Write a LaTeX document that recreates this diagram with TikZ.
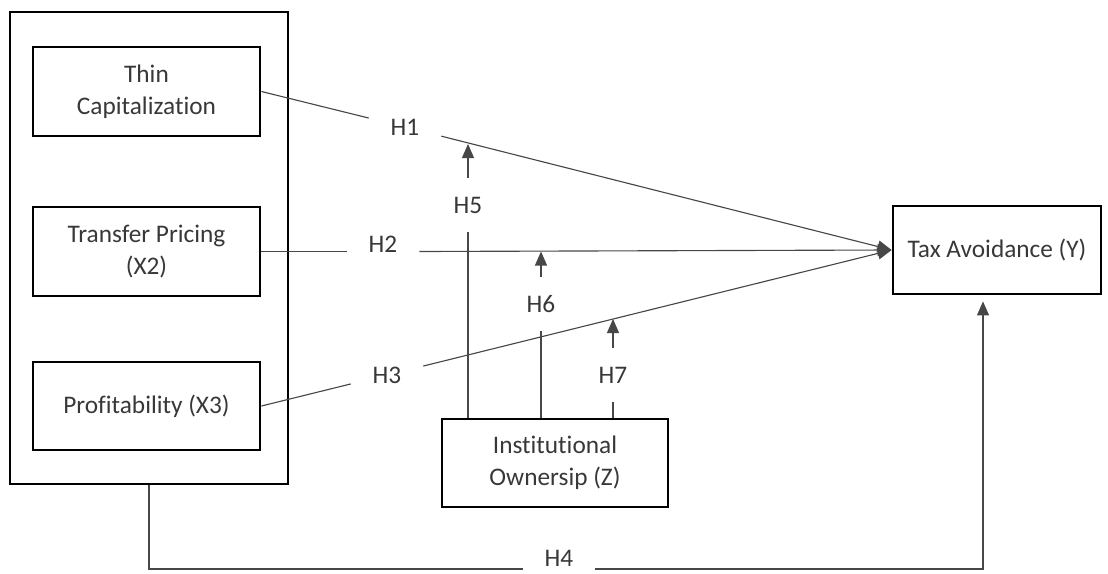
\documentclass[tikz,border=0pt]{standalone}
\usepackage{fontspec}
\setmainfont{Carlito}[Ligatures=NoCommon]
\usetikzlibrary{arrows.meta}

\begin{document}
\begin{tikzpicture}[x=0.025cm, y=-0.025cm,
  font=\fontsize{18}{22.5}\selectfont,
  every node/.style={text=black!78},
  box/.style={draw=black, line width=2pt, align=center, inner sep=0pt},
  hyp/.style={minimum width=1.8cm, minimum height=1.35cm, inner sep=0pt},
  ln/.style={draw=black!72, line width=0.8pt},
  arr/.style={ln, -{Triangle[length=0.35cm,width=0.3cm]}}]
\useasboundingbox (0,0) rectangle (1108,573);

\node[box, minimum width=6.95cm, minimum height=11.8cm] (grp) at (149,248) {};
\node[box, minimum width=5.675cm, minimum height=2.225cm] (tc) at (146.5,91.5) {Thin\\Capitalization};
\node[box, minimum width=5.675cm, minimum height=2.225cm] (tp) at (146.5,251.5) {Transfer Pricing\\(X2)};
\node[box, minimum width=5.675cm, minimum height=2.2cm] (pf) at (146.5,406) {Profitability (X3)};

\node[box, minimum width=5.2cm, minimum height=2.2cm] (tax) at (997,250) {Tax Avoidance (Y)};
\node[box, minimum width=5.65cm, minimum height=2.2cm] (inst) at (555,463) {Institutional\\Ownersip (Z)};

\node[hyp] (h1) at (405,127) {H1};
\node[hyp] (h2) at (383,244) {H2};
\node[hyp] (h3) at (387,375) {H3};
\node[hyp, minimum height=0pt] (h4) at (559,558) {H4};
\node[hyp] (h5) at (468,205) {H5};
\node[hyp] (h6) at (541,304) {H6};
\node[hyp] (h7) at (613,375) {H7};

% direct paths
\draw[ln] (tc.east) -- (h1);
\draw[arr] (h1) -- (tax.west);
\draw[ln] (tp.east) -- (tp.east -| h2.west);
\draw[arr] (tp.east -| h2.east) -- (tax.west);
\draw[ln] (pf.east) -- (h3);
\draw[arr] (h3) -- (tax.west);
\draw[ln] (grp.south) |- ([yshift=-7.8pt]h4.west);
\draw[arr, shorten >=0.15cm] ([yshift=-7.8pt]h4.east) -| ([xshift=-0.35cm]tax.south);

% moderation
\coordinate (m1) at (468,144);
\coordinate (m3) at (613,319);
\draw[ln] (h5) -- (h5 |- inst.north);
\draw[arr] (h5) -- (m1);
\draw[ln] (h6) -- (h6 |- inst.north);
\draw[arr] (h6) -- (h6 |- tp.east);
\draw[ln] (h7) -- (h7 |- inst.north);
\draw[arr] (h7) -- (m3);

\end{tikzpicture}
\end{document}
